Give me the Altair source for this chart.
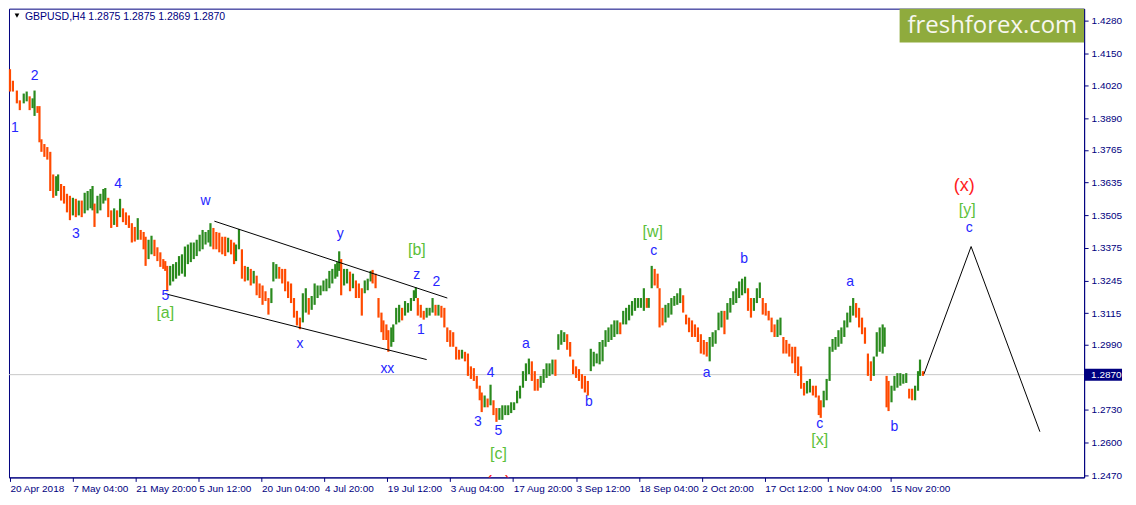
import altair as alt
import pandas as pd

# ---------------- data ----------------
bar_idx = [1, 4, 8, 11, 15, 18, 21, 24, 26, 29, 31, 33, 36, 39, 42, 45, 48, 50, 53, 56,
           59, 62, 65, 68, 71, 74, 77, 80, 83, 85, 87, 90, 93, 96, 98, 101, 104, 107, 110, 113,
           116, 119, 122, 125, 128, 131, 134, 137, 139, 142, 145, 148, 151, 154, 157, 159, 161, 164, 167, 170,
           173, 176, 179, 182, 185, 188, 191, 194, 197, 200, 203, 205, 208, 211, 214, 217, 220, 223, 226, 229,
           231, 234, 237, 240, 243, 246, 249, 252, 255, 258, 261, 264, 267, 269, 272, 275, 278, 281, 284, 287,
           290, 293, 296, 299, 302, 305, 308, 311, 314, 317, 320, 323, 326, 329, 332, 334, 336, 338, 341, 344,
           347, 350, 353, 356, 359, 362, 365, 368, 370, 373, 376, 379, 381, 384, 386, 389, 391, 394, 397, 400,
           403, 406, 409, 412, 414, 416, 419, 422, 425, 428, 431, 434, 437, 440, 443, 446, 449, 452, 455, 458,
           461, 464, 467, 470, 473, 476, 479, 481, 484, 487, 490, 493, 496, 499, 502, 505, 508, 511, 514, 517,
           520, 523, 526, 529, 532, 535, 538, 541, 544, 547, 550, 553, 556, 559, 562, 565, 568, 571, 574, 577,
           580, 583, 586, 589, 592, 595, 598, 601, 604, 607, 610, 613, 616, 619, 622, 625, 628, 631, 634, 637,
           640, 643, 646, 649, 651, 654, 657, 660, 662, 665, 668, 671, 674, 677, 680, 683, 686, 689, 692, 695,
           698, 701, 704, 707, 710, 713, 716, 719, 722, 725, 728, 731, 734, 737, 740, 743, 746, 749, 752, 755,
           758, 761, 764, 767, 770, 773, 776, 779, 782, 785, 788, 791, 794, 797, 800, 803, 806, 809, 812, 815,
           818, 821, 824, 826, 829, 832, 835, 838, 841, 844, 847, 850, 853, 856, 859, 862, 865, 868, 871, 874,
           877, 880, 883, 886, 889, 891, 893, 895, 898, 901, 904, 907, 910, 913, 916, 919, 922, 925, 927, 930]
bar_hi = [1.4086, 1.4040, 1.4001, 1.3962, 1.3989, 1.3997, 1.3978, 1.3970, 1.4001, 1.3939, 1.3939, 1.3807, 1.3788, 1.3776, 1.3757, 1.3667, 1.3660, 1.3667, 1.3629, 1.3621,
          1.3590, 1.3582, 1.3574, 1.3570, 1.3563, 1.3563, 1.3594, 1.3601, 1.3609, 1.3621, 1.3551, 1.3582, 1.3590, 1.3609, 1.3613, 1.3574, 1.3524, 1.3532, 1.3524, 1.3570,
          1.3532, 1.3516, 1.3504, 1.3473, 1.3458, 1.3493, 1.3446, 1.3438, 1.3419, 1.3407, 1.3423, 1.3407, 1.3377, 1.3357, 1.3330, 1.3322, 1.3303, 1.3303, 1.3310, 1.3318,
          1.3342, 1.3349, 1.3380, 1.3388, 1.3396, 1.3396, 1.3407, 1.3427, 1.3446, 1.3438, 1.3446, 1.3473, 1.3454, 1.3438, 1.3435, 1.3419, 1.3419, 1.3415, 1.3407, 1.3396,
          1.3388, 1.3450, 1.3369, 1.3303, 1.3299, 1.3291, 1.3283, 1.3264, 1.3233, 1.3225, 1.3202, 1.3175, 1.3214, 1.3318, 1.3310, 1.3299, 1.3291, 1.3291, 1.3241, 1.3233,
          1.3175, 1.3124, 1.3097, 1.3194, 1.3214, 1.3175, 1.3183, 1.3233, 1.3225, 1.3225, 1.3245, 1.3252, 1.3283, 1.3291, 1.3310, 1.3318, 1.3361, 1.3330, 1.3291, 1.3291,
          1.3280, 1.3272, 1.3245, 1.3233, 1.3214, 1.3245, 1.3252, 1.3283, 1.3287, 1.3272, 1.3175, 1.3117, 1.3086, 1.3070, 1.3047, 1.3058, 1.3070, 1.3136, 1.3148, 1.3136,
          1.3163, 1.3155, 1.3175, 1.3206, 1.3217, 1.3175, 1.3148, 1.3124, 1.3136, 1.3136, 1.3175, 1.3148, 1.3148, 1.3144, 1.3136, 1.3058, 1.3047, 1.3039, 1.2981, 1.2969,
          1.2969, 1.2961, 1.2954, 1.2903, 1.2896, 1.2865, 1.2826, 1.2799, 1.2787, 1.2775, 1.2830, 1.2768, 1.2737, 1.2737, 1.2748, 1.2748, 1.2748, 1.2760, 1.2760, 1.2806,
          1.2826, 1.2884, 1.2915, 1.2934, 1.2923, 1.2884, 1.2853, 1.2865, 1.2892, 1.2915, 1.2915, 1.2930, 1.2930, 1.3031, 1.3047, 1.3039, 1.3031, 1.3000, 1.2930, 1.2903,
          1.2892, 1.2872, 1.2865, 1.2845, 1.2973, 1.2961, 1.2954, 1.3000, 1.3008, 1.3047, 1.3058, 1.3070, 1.3086, 1.3086, 1.3078, 1.3124, 1.3136, 1.3148, 1.3163, 1.3175,
          1.3175, 1.3175, 1.3214, 1.3175, 1.3175, 1.3303, 1.3291, 1.3272, 1.3214, 1.3136, 1.3148, 1.3155, 1.3175, 1.3183, 1.3194, 1.3214, 1.3186, 1.3109, 1.3097, 1.3086,
          1.3070, 1.3058, 1.3031, 1.3008, 1.3000, 1.3020, 1.3039, 1.3047, 1.3117, 1.3124, 1.3124, 1.3155, 1.3175, 1.3202, 1.3214, 1.3241, 1.3252, 1.3260, 1.3214, 1.3175,
          1.3175, 1.3214, 1.3237, 1.3175, 1.3155, 1.3124, 1.3097, 1.3070, 1.3089, 1.3097, 1.3020, 1.3008, 1.2993, 1.2981, 1.2981, 1.2942, 1.2903, 1.2837, 1.2845, 1.2853,
          1.2826, 1.2826, 1.2787, 1.2768, 1.2806, 1.2853, 1.2981, 1.3012, 1.3020, 1.3047, 1.3058, 1.3086, 1.3117, 1.3144, 1.3175, 1.3155, 1.3136, 1.3097, 1.3058, 1.2954,
          1.2923, 1.2942, 1.3039, 1.3058, 1.3070, 1.3058, 1.2865, 1.2845, 1.2826, 1.2865, 1.2876, 1.2876, 1.2872, 1.2876, 1.2814, 1.2814, 1.2826, 1.2884, 1.2930, 1.2884]
bar_lo = [1.3997, 1.3997, 1.3950, 1.3923, 1.3950, 1.3958, 1.3923, 1.3931, 1.3900, 1.3912, 1.3795, 1.3757, 1.3737, 1.3726, 1.3601, 1.3574, 1.3582, 1.3601, 1.3563, 1.3551,
          1.3516, 1.3485, 1.3504, 1.3497, 1.3504, 1.3497, 1.3512, 1.3524, 1.3532, 1.3524, 1.3458, 1.3512, 1.3524, 1.3551, 1.3563, 1.3497, 1.3454, 1.3466, 1.3458, 1.3497,
          1.3477, 1.3466, 1.3454, 1.3396, 1.3400, 1.3407, 1.3407, 1.3369, 1.3303, 1.3330, 1.3349, 1.3342, 1.3322, 1.3299, 1.3291, 1.3283, 1.3202, 1.3225, 1.3241, 1.3252,
          1.3264, 1.3272, 1.3260, 1.3310, 1.3318, 1.3330, 1.3342, 1.3361, 1.3369, 1.3388, 1.3396, 1.3380, 1.3369, 1.3369, 1.3357, 1.3349, 1.3342, 1.3357, 1.3349, 1.3310,
          1.3322, 1.3369, 1.3252, 1.3241, 1.3245, 1.3225, 1.3233, 1.3186, 1.3175, 1.3148, 1.3163, 1.3109, 1.3155, 1.3241, 1.3252, 1.3252, 1.3233, 1.3202, 1.3175, 1.3155,
          1.3097, 1.3066, 1.3051, 1.3078, 1.3117, 1.3109, 1.3128, 1.3148, 1.3175, 1.3186, 1.3202, 1.3202, 1.3214, 1.3233, 1.3252, 1.3260, 1.3283, 1.3186, 1.3225, 1.3233,
          1.3202, 1.3214, 1.3175, 1.3175, 1.3105, 1.3194, 1.3206, 1.3241, 1.3233, 1.3214, 1.3097, 1.3039, 1.3008, 1.3008, 1.2961, 1.2981, 1.3000, 1.3070, 1.3078, 1.3086,
          1.3105, 1.3117, 1.3124, 1.3163, 1.3175, 1.3105, 1.3097, 1.3089, 1.3097, 1.3105, 1.3117, 1.3105, 1.3105, 1.3097, 1.3058, 1.3000, 1.2981, 1.2981, 1.2930, 1.2930,
          1.2934, 1.2923, 1.2865, 1.2853, 1.2845, 1.2814, 1.2768, 1.2721, 1.2740, 1.2740, 1.2748, 1.2709, 1.2682, 1.2690, 1.2690, 1.2709, 1.2709, 1.2717, 1.2729, 1.2756,
          1.2775, 1.2818, 1.2845, 1.2872, 1.2845, 1.2806, 1.2806, 1.2818, 1.2837, 1.2857, 1.2865, 1.2872, 1.2865, 1.2969, 1.2989, 1.3000, 1.2969, 1.2942, 1.2872, 1.2857,
          1.2845, 1.2814, 1.2799, 1.2787, 1.2884, 1.2903, 1.2915, 1.2911, 1.2923, 1.2981, 1.3000, 1.3008, 1.3020, 1.3031, 1.3031, 1.3070, 1.3070, 1.3086, 1.3105, 1.3124,
          1.3136, 1.3136, 1.3124, 1.3136, 1.3136, 1.3214, 1.3225, 1.3214, 1.3058, 1.3066, 1.3078, 1.3097, 1.3109, 1.3144, 1.3148, 1.3155, 1.3117, 1.3070, 1.3039, 1.3020,
          1.3020, 1.3000, 1.2954, 1.2950, 1.2942, 1.2923, 1.2981, 1.2993, 1.3047, 1.3058, 1.3031, 1.3089, 1.3117, 1.3148, 1.3155, 1.3175, 1.3186, 1.3194, 1.3124, 1.3097,
          1.3124, 1.3155, 1.3175, 1.3109, 1.3105, 1.3086, 1.3039, 1.3020, 1.3020, 1.3027, 1.2954, 1.2954, 1.2942, 1.2915, 1.2876, 1.2865, 1.2814, 1.2787, 1.2795, 1.2799,
          1.2787, 1.2779, 1.2709, 1.2698, 1.2740, 1.2768, 1.2845, 1.2961, 1.2969, 1.2981, 1.2993, 1.3020, 1.3058, 1.3078, 1.3105, 1.3097, 1.3058, 1.3031, 1.2993, 1.2865,
          1.2845, 1.2865, 1.2942, 1.2961, 1.2954, 1.2981, 1.2740, 1.2725, 1.2760, 1.2806, 1.2818, 1.2826, 1.2834, 1.2837, 1.2775, 1.2768, 1.2768, 1.2806, 1.2865, 1.2865]

x_tick_idx = [1, 65, 129, 193, 257, 321, 385, 449, 513, 577, 641, 705, 769, 833, 897]
x_tick_lbl = ["20 Apr 2018", "7 May 04:00", "21 May 20:00", "5 Jun 12:00", "20 Jun 04:00",
              "4 Jul 20:00", "19 Jul 12:00", "3 Aug 04:00", "17 Aug 20:00", "3 Sep 12:00",
              "18 Sep 04:00", "2 Oct 20:00", "17 Oct 12:00", "1 Nov 04:00", "15 Nov 20:00"]
y_ticks = [1.4280, 1.4150, 1.4020, 1.3890, 1.3765, 1.3635, 1.3505, 1.3375, 1.3245,
           1.3115, 1.2990, 1.2730, 1.2600, 1.2470]
last_price = 1.2870
title_text = "GBPUSD,H4  1.2875 1.2875 1.2869 1.2870"

blue_idx = [6, 26, 68, 111, 159, 200, 296, 337, 385, 415, 435, 419, 490, 477, 498, 526,
            590, 656, 710, 748, 825, 856, 901, 977]
blue_price = [1.3853, 1.4059, 1.3431, 1.3628, 1.3183, 1.3563, 1.2993, 1.3431, 1.2892, 1.3268,
              1.3237, 1.3047, 1.2876, 1.2682, 1.2647, 1.2993, 1.2760, 1.3361, 1.2876, 1.3330,
              1.2674, 1.3237, 1.2663, 1.3454]
blue_text = ["1", "2", "3", "4", "5", "w", "x", "y", "xx", "z", "2", "1", "4", "3", "5", "a",
             "b", "c", "a", "b", "c", "a", "b", "c"]

green_idx = [159, 415, 498, 655, 825, 975]
green_price = [1.3117, 1.3365, 1.2554, 1.3438, 1.2609, 1.3524]
green_text = ["[a]", "[b]", "[c]", "[w]", "[x]", "[y]"]

red_idx = [972, 498]
red_price = [1.3621, 1.2438]
red_text = ["(x)", "(w)"]

chan_idx = [209, 446, 161, 425]
chan_price = [1.3481, 1.3175, 1.3190, 1.2930]
chan_seg = ["upper", "upper", "lower", "lower"]

proj_idx = [931, 979, 1049]
proj_price = [1.2872, 1.3380, 1.2643]

# ---------------- chart ----------------
W, H = 1078, 470
NAVY = "#000080"
FONT = "Liberation Sans"

x_scale = alt.Scale(domain=[0, 1094], nice=False, zero=False)
y_scale = alt.Scale(domain=[1.2461, 1.4327], nice=False, zero=False)

mids = [(h + l) / 2 for h, l in zip(bar_hi, bar_lo)]
dirs = ["down"] + ["up" if mids[i] >= mids[i - 1] else "down" for i in range(1, len(mids))]
bars_df = pd.DataFrame({"idx": bar_idx, "hi": bar_hi, "lo": bar_lo, "dir": dirs})

lbl_arr = "[" + ",".join("'%s'" % s for s in x_tick_lbl) + "]"
idx_arr = "[" + ",".join(str(v) for v in x_tick_idx) + "]"
x_axis = alt.Axis(values=x_tick_idx, labelExpr=f"{lbl_arr}[indexof({idx_arr}, datum.value)]",
                  labelAlign="left", labelColor=NAVY, labelFont=FONT, labelFontSize=10,
                  tickColor=NAVY, tickSize=4, domainColor=NAVY, grid=False, title=None,
                  labelOverlap=False, labelPadding=2)
y_axis = alt.Axis(values=y_ticks, format=".4f", orient="right", labelColor=NAVY, labelFont=FONT,
                  labelFontSize=10, tickColor=NAVY, tickSize=4, domainColor=NAVY, grid=False,
                  title=None, labelOverlap=False, labelPadding=3)

X = alt.X("idx:Q", scale=x_scale, axis=x_axis)
Yp = alt.Y("p:Q", scale=y_scale, axis=y_axis)

price_line = alt.Chart(pd.DataFrame({"p": [last_price]})).mark_rule(color="#c8c8c8", strokeWidth=1).encode(
    y=Yp)

bars = alt.Chart(bars_df).mark_rule(strokeWidth=2.2).encode(
    x=X,
    y=alt.Y("lo:Q", scale=y_scale, axis=y_axis),
    y2="hi:Q",
    color=alt.Color("dir:N", scale=alt.Scale(domain=["up", "down"], range=["#2a8a1e", "#ff4a00"]), legend=None),
)

chan = alt.Chart(pd.DataFrame({"idx": chan_idx, "p": chan_price, "seg": chan_seg})).mark_line(
    color="black", strokeWidth=1).encode(x=X, y=Yp, detail="seg:N")

proj = alt.Chart(pd.DataFrame({"idx": proj_idx, "p": proj_price, "o": [0, 1, 2]})).mark_line(
    color="black", strokeWidth=1).encode(x=X, y=Yp, order="o:Q")

blue = alt.Chart(pd.DataFrame({"idx": blue_idx, "p": blue_price, "t": blue_text})).mark_text(
    font=FONT, fontSize=14, color="#2626ff", baseline="middle", align="center").encode(
    x=X, y=Yp, text="t:N")

green = alt.Chart(pd.DataFrame({"idx": green_idx, "p": green_price, "t": green_text})).mark_text(
    font=FONT, fontSize=16, color="#5cbf3a", baseline="middle", align="center").encode(
    x=X, y=Yp, text="t:N")

red = alt.Chart(pd.DataFrame({"idx": red_idx, "p": red_price, "t": red_text})).mark_text(
    font=FONT, fontSize=18, color="#ff2020", baseline="middle", align="center", clip=True).encode(
    x=X, y=Yp, text="t:N")

price_box = alt.Chart(pd.DataFrame({"p": [last_price]})).mark_rule(
    color=NAVY, strokeWidth=12, strokeCap="butt").encode(
    x=alt.value(W), x2=alt.value(W + 38), y=Yp)
price_txt = alt.Chart(pd.DataFrame({"p": [last_price], "t": ["%.4f" % last_price]})).mark_text(
    font=FONT, fontSize=10, color="white", align="left", baseline="middle").encode(
    x=alt.value(W + 7), y=Yp, text="t:N")

logo_bg = alt.Chart(pd.DataFrame({"a": [0]})).mark_rect(color="#8fab3d").encode(
    x=alt.value(W - 185), x2=alt.value(W), y=alt.value(0), y2=alt.value(34))
logo_txt = alt.Chart(pd.DataFrame({"t": ["freshforex.com"]})).mark_text(
    font="Open Sans", fontSize=24, color="#f7f7ef", align="center", baseline="middle").encode(
    x=alt.value(W - 92), y=alt.value(17), text="t:N")

tri = alt.Chart(pd.DataFrame({"a": [0]})).mark_point(
    shape="triangle-down", filled=True, color="black", size=22, opacity=1).encode(
    x=alt.value(8), y=alt.value(7))
title = alt.Chart(pd.DataFrame({"t": [title_text]})).mark_text(
    font=FONT, fontSize=10.5, color=NAVY, align="left", baseline="middle").encode(
    x=alt.value(16), y=alt.value(8), text="t:N")

chart = alt.layer(price_line, bars, chan, proj, blue, green, red, price_box, price_txt,
                  logo_bg, logo_txt, tri, title).properties(
    width=W, height=H, padding=0, background="white"
).configure_view(stroke=NAVY, strokeWidth=1).configure_axis(labelOverlap=False)

chart.save("out.html", embed_options={"renderer": "svg", "actions": False})
